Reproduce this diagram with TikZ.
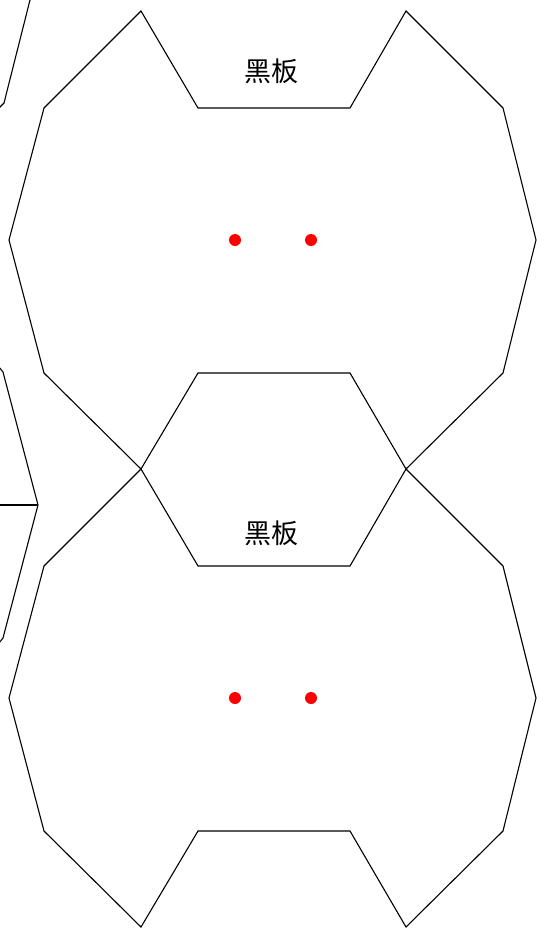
\documentclass[tikz,border=0pt]{standalone}
\usepackage{fontspec}
\newfontfamily\cjk{Noto Sans CJK SC}
\begin{document}
\begin{tikzpicture}[x=1pt,y=-1pt,
  wall/.style={draw=black,line width=1.1pt,line join=miter},
  seat/.style={fill=red,draw=none},
  board/.style={font=\cjk\fontsize{27}{27}\selectfont,inner sep=0pt}]
\useasboundingbox (0,0) rectangle (537,929);
% top room
\draw[wall] (141,11)--(198,108)--(350,108)--(406,11)--(503,108)--(536,240)--(503,373)--(406,469)--(350,373)--(198,373)--(141,469)--(44,373)--(9,240)--(44,108)--cycle;
% bottom room
\draw[wall] (141,469)--(198,566)--(350,566)--(406,469)--(503,566)--(536,698)--(503,831)--(406,927)--(350,831)--(198,831)--(141,927)--(44,831)--(9,698)--(44,566)--cycle;
% partial rooms at left edge
\draw[wall] (30,0)--(4,103)--(-1,108);
\draw[wall] (-1,367)--(3,372)--(38,505)--(3,638)--(-1,643);
\draw[wall,line width=1.6pt] (-1,505)--(38,505);
% labels
\node[board] (b1) at (271,71) {黑板};
\node[board] (b2) at (271,533) {黑板};
% seats
\fill[seat] (235,240) circle (6);
\fill[seat] (311,240) circle (6);
\fill[seat] (235,698) circle (6);
\fill[seat] (311,698) circle (6);
\end{tikzpicture}
\end{document}
